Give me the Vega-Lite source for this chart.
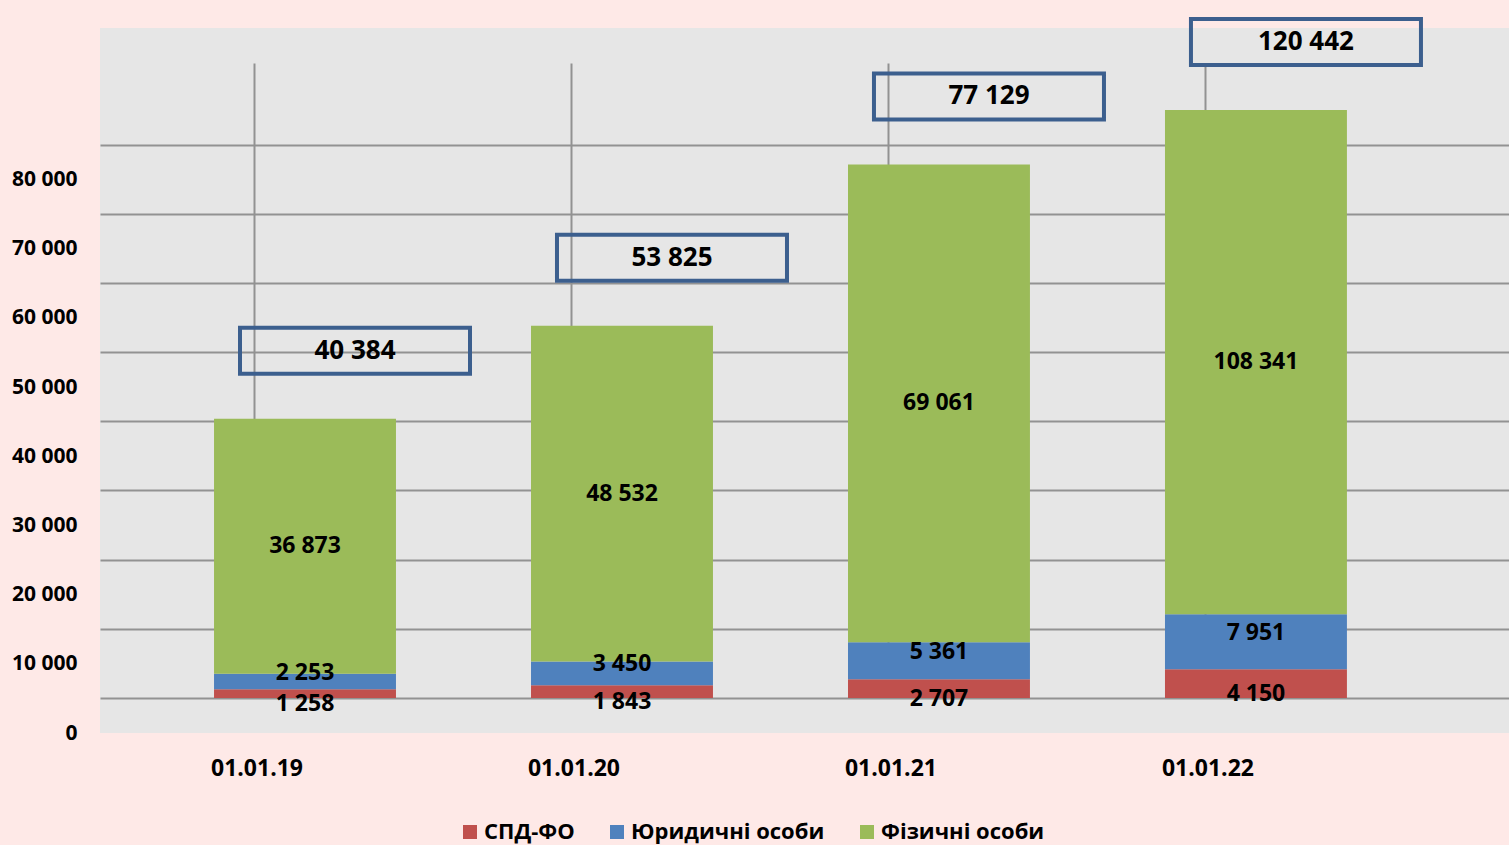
{
  "$schema": "https://vega.github.io/schema/vega-lite/v6.json",
  "width": 1409,
  "height": 705,
  "autosize": {"type": "none"},
  "padding": {"left": 100, "top": 28, "right": 0, "bottom": 112},
  "background": "#fee9e7",
  "config": {
    "locale": {"number": {"decimal": ",", "thousands": " ", "grouping": [3], "currency": ["", ""]}},
    "view": {"fill": "#e6e6e6", "stroke": null},
    "font": "Open Sans"
  },
  "data": {
    "values": [
      {"date": "01.01.19", "series": "СПД-ФО", "value": 1258},
      {"date": "01.01.19", "series": "Юридичні особи", "value": 2253},
      {"date": "01.01.19", "series": "Фізичні особи", "value": 36873},
      {"date": "01.01.20", "series": "СПД-ФО", "value": 1843},
      {"date": "01.01.20", "series": "Юридичні особи", "value": 3450},
      {"date": "01.01.20", "series": "Фізичні особи", "value": 48532},
      {"date": "01.01.21", "series": "СПД-ФО", "value": 2707},
      {"date": "01.01.21", "series": "Юридичні особи", "value": 5361},
      {"date": "01.01.21", "series": "Фізичні особи", "value": 69061},
      {"date": "01.01.22", "series": "СПД-ФО", "value": 4150},
      {"date": "01.01.22", "series": "Юридичні особи", "value": 7951},
      {"date": "01.01.22", "series": "Фізичні особи", "value": 108341}
    ]
  },
  "encoding": {
    "x": {
      "field": "date",
      "type": "nominal",
      "sort": null,
      "title": null,
      "scale": {"type": "band", "paddingInner": 0.426, "paddingOuter": 0.4355, "align": 0.413},
      "axis": {
        "labelAngle": 0,
        "labelFontSize": 23,
        "labelFontWeight": "bold",
        "labelColor": "#000000",
        "labelPadding": 24,
        "labelOffset": -48,
        "ticks": false,
        "domain": false,
        "grid": true,
        "gridColor": "#929292",
        "gridWidth": 2,
        "bandPosition": 0.225
      }
    }
  },
  "layer": [
    {
      "mark": {"type": "bar"},
      "encoding": {
        "y": {
          "field": "value",
          "type": "quantitative",
          "stack": "zero",
          "title": null,
          "scale": {"domain": [0, 85000], "range": [670, 82], "clamp": true, "nice": false, "zero": false},
          "axis": {
            "values": [0, 10000, 20000, 30000, 40000, 50000, 60000, 70000, 80000],
            "format": ",d",
            "labelFontSize": 21,
            "labelFontWeight": "bold",
            "labelColor": "#000000",
            "labelPadding": 23,
            "labelOffset": 35,
            "ticks": false,
            "domain": false,
            "grid": true,
            "gridColor": "#929292",
            "gridWidth": 2
          }
        },
        "order": {"field": "value", "type": "quantitative", "sort": "ascending"},
        "color": {
          "field": "series",
          "type": "nominal",
          "scale": {"domain": ["СПД-ФО", "Юридичні особи", "Фізичні особи"], "range": ["#c0504d", "#4f81bd", "#9bbb59"]},
          "legend": {
            "title": null,
            "orient": "none",
            "legendX": 359,
            "legendY": 793,
            "direction": "horizontal",
            "symbolType": "square",
            "symbolSize": 196,
            "symbolStrokeWidth": 0,
            "labelFontSize": 22,
            "labelFontWeight": "bold",
            "labelColor": "#000000",
            "labelLimit": 400,
            "columnPadding": 31,
            "labelOffset": 3,
            "padding": 0
          }
        }
      }
    },
    {
      "mark": {
        "type": "text",
        "fontSize": 23,
        "fontWeight": "bold",
        "color": "#000000",
        "dy": {"expr": "(scale('y', datum.value_start) + scale('y', datum.value_end)) / 2 - scale('y', (datum.value_start + datum.value_end) / 2) + (datum.series === 'СПД-ФО' ? 10 : (datum.series === 'Юридичні особи' ? -9 : 0))"}
      },
      "encoding": {
        "y": {"field": "value", "type": "quantitative", "stack": "zero", "bandPosition": 0.5, "title": null},
        "detail": {"field": "series"},
        "order": {"field": "value", "type": "quantitative", "sort": "ascending"},
        "text": {"field": "value", "type": "quantitative", "format": ",d"}
      }
    },
    {
      "transform": [{"aggregate": [{"op": "sum", "field": "value", "as": "total"}], "groupby": ["date"]}],
      "layer": [
        {
          "mark": {"type": "point", "shape": "M-1,-0.2H1V0.2H-1Z", "size": 52900, "filled": false, "color": "#3c5f8e", "strokeWidth": 4, "opacity": 1, "xOffset": 50, "yOffset": -68},
          "encoding": {"y": {"field": "total", "type": "quantitative", "title": null}}
        },
        {
          "mark": {"type": "text", "fontSize": 26, "fontWeight": "bold", "color": "#000000", "dx": 50, "dy": -68},
          "encoding": {
            "y": {"field": "total", "type": "quantitative", "title": null},
            "text": {"field": "total", "type": "quantitative", "format": ",d"}
          }
        }
      ]
    }
  ]
}
